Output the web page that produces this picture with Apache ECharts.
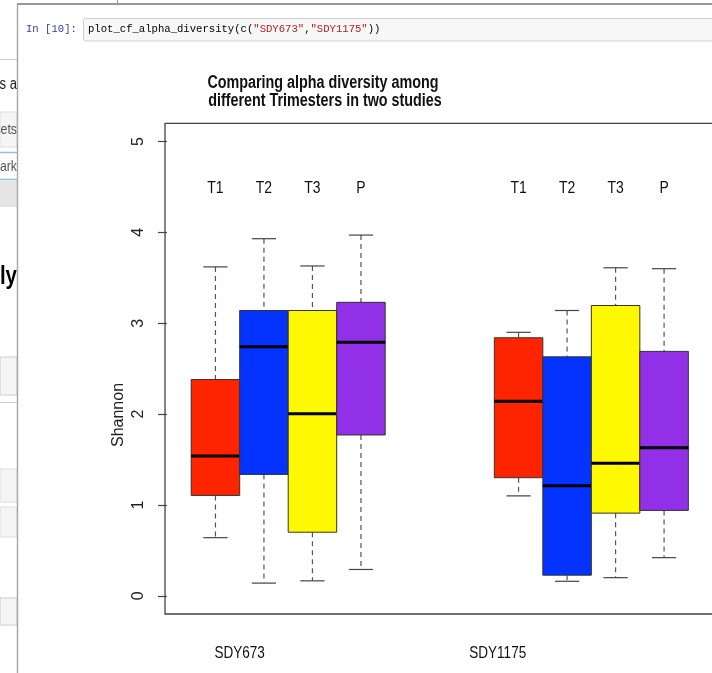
<!DOCTYPE html>
<html>
<head>
<meta charset="utf-8">
<script src="https://cdn.jsdelivr.net/npm/echarts@6.0.0/dist/echarts.min.js"></script>
<style>
html,body{margin:0;padding:0;background:#fff;overflow:hidden;}
#c{width:712px;height:673px;}
</style>
</head>
<body>
<div id="c"></div>
<script>
// ---- data ----
const groups = ['SDY673', 'SDY1175'];
const groupLabelPos = [1.5, 6.82];
const trimesters = ['T1', 'T2', 'T3', 'P'];
const trimesterColors = ['#FF2400', '#0433FF', '#FFF900', '#9230E8'];
const posSDY673 = [1, 2, 3, 4];
const posSDY1175 = [7.25, 8.25, 9.25, 10.25];
// per trimester: [low whisker, Q1, median, Q3, high whisker]
const statsSDY673 = [
  [0.64, 1.105, 1.54, 2.38, 3.62],
  [0.14, 1.336, 2.74, 3.14, 3.93],
  [0.165, 0.70, 2.005, 3.14, 3.63],
  [0.29, 1.77, 2.79, 3.23, 3.97]
];
const statsSDY1175 = [
  [1.10, 1.30, 2.14, 2.84, 2.90],
  [0.16, 0.227, 1.21, 2.63, 3.14],
  [0.20, 0.91, 1.46, 3.195, 3.61],
  [0.42, 0.94, 1.63, 2.69, 3.60]
];
const yTicks = [0, 1, 2, 3, 4, 5];
const trimesterLabelY = 4.5;
const Y_MIN = -0.2, Y_MAX = 5.2;

const SANS = '"Liberation Sans", Arial, sans-serif';
const MONO = '"Liberation Mono", "DejaVu Sans Mono", monospace';
const SQUEEZE = 0.82; // the screenshot is horizontally compressed

function makeRender(color, label) {
  return function (params, api) {
    const x = api.value(0);
    const pLow = api.coord([x, api.value(1)]);
    const pQ1 = api.coord([x, api.value(2)]);
    const pMed = api.coord([x, api.value(3)]);
    const pQ3 = api.coord([x, api.value(4)]);
    const pHigh = api.coord([x, api.value(5)]);
    const pLab = api.coord([x, trimesterLabelY]);
    const w = api.size([1, 0])[0];
    const cw = w * 0.5;
    const cx = pLow[0];
    const wStyle = { stroke: '#555', lineWidth: 1.2, lineDash: [5, 4] };
    const cStyle = { stroke: '#444', lineWidth: 1.2 };
    return {
      type: 'group',
      children: [
        { type: 'line', shape: { x1: cx, y1: pHigh[1], x2: cx, y2: pQ3[1] }, style: wStyle },
        { type: 'line', shape: { x1: cx, y1: pQ1[1], x2: cx, y2: pLow[1] }, style: wStyle },
        { type: 'line', shape: { x1: cx - cw / 2, y1: pHigh[1], x2: cx + cw / 2, y2: pHigh[1] }, style: cStyle },
        { type: 'line', shape: { x1: cx - cw / 2, y1: pLow[1], x2: cx + cw / 2, y2: pLow[1] }, style: cStyle },
        { type: 'rect', shape: { x: cx - w / 2, y: pQ3[1], width: w, height: pQ1[1] - pQ3[1] },
          style: { fill: color, stroke: '#333', lineWidth: 1 } },
        { type: 'line', shape: { x1: cx - w / 2, y1: pMed[1], x2: cx + w / 2, y2: pMed[1] },
          style: { stroke: '#000', lineWidth: 3 } },
        { type: 'text', x: cx, y: pLab[1] + 1.5, scaleX: SQUEEZE,
          style: { text: label, x: 0, y: 0, align: 'center', verticalAlign: 'middle',
          fontSize: 17, fontFamily: SANS, fill: '#111' } }
      ]
    };
  };
}

const series = trimesters.map(function (t, i) {
  return {
    type: 'custom',
    name: t,
    renderItem: makeRender(trimesterColors[i], t),
    encode: { x: 0, y: [1, 2, 3, 4, 5] },
    data: [
      [posSDY673[i]].concat(statsSDY673[i]),
      [posSDY1175[i]].concat(statsSDY1175[i])
    ],
    clip: false,
    silent: true
  };
});

// group labels below the plot, placed through the x scale
series.push({
  type: 'custom',
  name: 'groups',
  encode: { x: 0 },
  data: groupLabelPos.map(function (p, i) { return [p, i]; }),
  clip: false,
  silent: true,
  renderItem: function (params, api) {
    const p = api.coord([api.value(0), Y_MIN]);
    return { type: 'text', x: p[0], y: p[1] + 39, scaleX: SQUEEZE,
      style: { text: groups[api.value(1)], x: 0, y: 0, align: 'center', verticalAlign: 'middle',
        fontSize: 16.5, fontFamily: SANS, fill: '#111' } };
  }
});

const chart = echarts.init(document.getElementById('c'), null, { renderer: 'canvas' });

function sq(el) { el.scaleX = SQUEEZE; return el; }

const graphic = [
  // left strip of another page
  { type: 'line', shape: { x1: 0, y1: 59.5, x2: 17, y2: 59.5 }, style: { stroke: '#ccc', lineWidth: 1 } },
  sq({ type: 'text', x: 17, y: 85, style: { text: 'is a', x: 0, y: 0, align: 'right', verticalAlign: 'middle', fontSize: 16, fontFamily: SANS, fill: '#222' } }),
  { type: 'rect', shape: { x: 0, y: 112, width: 17, height: 35 }, style: { fill: '#f5f5f5', stroke: '#ddd', lineWidth: 1 } },
  sq({ type: 'text', x: 17, y: 130, style: { text: 'sets', x: 0, y: 0, align: 'right', verticalAlign: 'middle', fontSize: 15, fontFamily: SANS, fill: '#555' } }),
  { type: 'line', shape: { x1: 0, y1: 152.5, x2: 17, y2: 152.5 }, style: { stroke: '#8cc0ea', lineWidth: 1.5 } },
  sq({ type: 'text', x: 17, y: 167, style: { text: 'mark', x: 0, y: 0, align: 'right', verticalAlign: 'middle', fontSize: 15, fontFamily: SANS, fill: '#555' } }),
  { type: 'line', shape: { x1: 0, y1: 179.5, x2: 17, y2: 179.5 }, style: { stroke: '#8cc0ea', lineWidth: 1.5 } },
  { type: 'rect', shape: { x: 0, y: 181, width: 17, height: 26 }, style: { fill: '#e4e4e4' } },
  sq({ type: 'text', x: 17, y: 277, style: { text: 'ly', x: 0, y: 0, align: 'right', verticalAlign: 'middle', fontSize: 25, fontWeight: 'bold', fontFamily: SANS, fill: '#000' } }),
  { type: 'rect', shape: { x: 0, y: 357, width: 17, height: 38 }, style: { fill: '#f5f5f5', stroke: '#ccc', lineWidth: 1 } },
  { type: 'line', shape: { x1: 0, y1: 402.5, x2: 17, y2: 402.5 }, style: { stroke: '#ccc', lineWidth: 1 } },
  { type: 'rect', shape: { x: 0, y: 469, width: 17, height: 33 }, style: { fill: '#f5f5f5', stroke: '#ddd', lineWidth: 1 } },
  { type: 'rect', shape: { x: 0, y: 507, width: 17, height: 30 }, style: { fill: '#f5f5f5', stroke: '#ddd', lineWidth: 1 } },
  { type: 'rect', shape: { x: 0, y: 598, width: 17, height: 27 }, style: { fill: '#f5f5f5', stroke: '#ccc', lineWidth: 1 } },
  // panel borders
  { type: 'line', shape: { x1: 17.5, y1: 4, x2: 17.5, y2: 673 }, style: { stroke: '#aaa', lineWidth: 1.5 } },
  { type: 'line', shape: { x1: 17, y1: 4, x2: 712, y2: 4 }, style: { stroke: '#999', lineWidth: 2 } },
  { type: 'line', shape: { x1: 117.5, y1: 0, x2: 117.5, y2: 4 }, style: { stroke: '#999', lineWidth: 1 } },
  // code cell
  { type: 'text', style: { text: 'In [10]:', x: 26, y: 29, align: 'left', verticalAlign: 'middle', fontSize: 10.6, fontFamily: MONO, fill: '#303F9F' } },
  { type: 'rect', shape: { x: 83.5, y: 18.5, width: 640, height: 22.5, r: 2 }, style: { fill: '#f7f7f7', stroke: '#cfcfcf', lineWidth: 1 } },
  { type: 'text', style: {
      text: '{k|plot_cf_alpha_diversity(c(}{s|"SDY673"}{k|,}{s|"SDY1175"}{k|))}',
      x: 88, y: 29.5, align: 'left', verticalAlign: 'middle',
      rich: {
        k: { fontSize: 10.6, fontFamily: MONO, fill: '#000' },
        s: { fontSize: 10.6, fontFamily: MONO, fill: '#BA2121' }
      }
  } },
  // title
  sq({ type: 'text', x: 323, y: 74, style: { text: 'Comparing alpha diversity among\n different Trimesters in two studies', x: 0, y: 0,
      align: 'center', verticalAlign: 'top', fontSize: 17.5, lineHeight: 18, fontWeight: 'bold', fontFamily: SANS, fill: '#111' } }),
  // y-axis title
  { type: 'text', rotation: Math.PI / 2, x: 119, y: 415, style: { text: 'Shannon', x: 0, y: 0, align: 'center', verticalAlign: 'middle',
      fontSize: 16, fontFamily: SANS, fill: '#222' } }
];

const option = {
  animation: false,
  backgroundColor: '#fff',
  grid: {
    left: 165, top: 123.3, bottom: 59, right: -60,
    outerBoundsMode: 'none',
    show: true, borderColor: '#444', borderWidth: 1.3, backgroundColor: 'transparent'
  },
  xAxis: {
    type: 'value', min: -0.04, max: 12.475,
    axisLine: { show: false }, axisTick: { show: false }, splitLine: { show: false },
    axisLabel: { show: false }
  },
  yAxis: {
    type: 'value', min: Y_MIN, max: Y_MAX,
    axisLine: { show: false }, splitLine: { show: false },
    axisTick: { show: true, customValues: yTicks, length: 9, lineStyle: { color: '#444', width: 1.2 } },
    axisLabel: { customValues: yTicks, rotate: 90, margin: 18, fontSize: 16, fontFamily: SANS, color: '#222' }
  },
  graphic: graphic,
  series: series
};
chart.setOption(option);
</script>
</body>
</html>
